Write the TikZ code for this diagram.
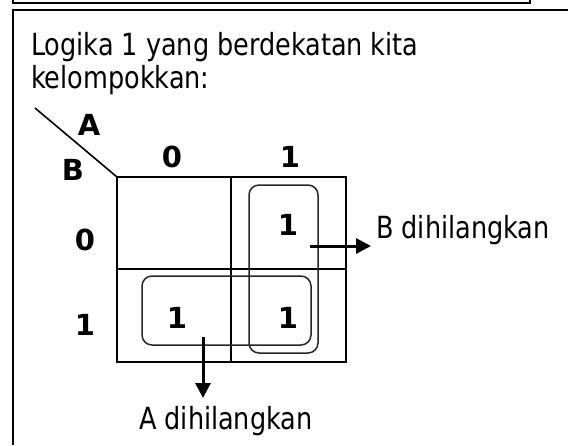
\documentclass[tikz,border=0pt]{standalone}
\usepackage{fontspec}
\setmainfont[FakeStretch=0.93]{DejaVu Sans Condensed}
\newfontfamily\lblfont{DejaVu Sans}
\usetikzlibrary{arrows.meta}
\begin{document}
\begin{tikzpicture}[x=1pt,y=-1pt,
  frame/.style={line width=1.8pt,black},
  gridline/.style={line width=1.6pt,black},
  groupbox/.style={line width=1.5pt,black!85,rounded corners=10pt},
  pointer/.style={line width=3pt,-{Triangle[length=15pt,width=15pt]}},
  txt/.style={inner sep=0pt,anchor=base west,font=\fontsize{30.5}{34}\selectfont},
  lbl/.style={inner sep=0pt,font=\lblfont\fontsize{29}{34}\selectfont\bfseries},
]
\useasboundingbox (0,0) rectangle (568,445);

% page frames
\draw[frame] (13,0) -- (13,3) -- (530,3) -- (530,0);
\draw[frame] (13,445) -- (13,10) -- (568,10);

% heading
\node[txt] (l1) at (31,55) {Logika 1 yang berdekatan kita};
\node[txt] (l2) at (31,88) {kelompokkan:};

% corner of the map
\coordinate (c0) at (35,108);
\coordinate (c1) at (117,177);
\draw[gridline] (c0) -- (c1);
\node[lbl] (va) at (89,125) {A};
\node[lbl] (vb) at (73,170) {B};

% column and row headings
\node[lbl] (a0) at (172,157) {0};
\node[lbl] (a1) at (290,157) {1};
\node[lbl] (b0) at (85,240) {0};
\node[lbl] (b1) at (85,325) {1};

% grid
\draw[gridline] (117,177) rectangle (346,362);
\draw[gridline] (231,177) -- (231,362);
\draw[gridline] (117,269) -- (346,269);

% cells
\node[lbl] (m01) at (288,225) {1};
\node[lbl] (m10) at (177,318) {1};
\node[lbl] (m11) at (288,318) {1};

% groups
\draw[groupbox] (249,185) rectangle (318,353);
\draw[groupbox] (142,276) rectangle (311,345);

% explanations
\node[txt] (tb) at (376,238) {B dihilangkan};
\node[txt] (ta) at (139,429) {A dihilangkan};
\coordinate (pb0) at (310,246);
\coordinate (pb1) at (371,246);
\coordinate (pa0) at (203,337);
\coordinate (pa1) at (203,398);
\draw[pointer] (pb0) -- (pb1);
\draw[pointer] (pa0) -- (pa1);
\end{tikzpicture}
\end{document}
